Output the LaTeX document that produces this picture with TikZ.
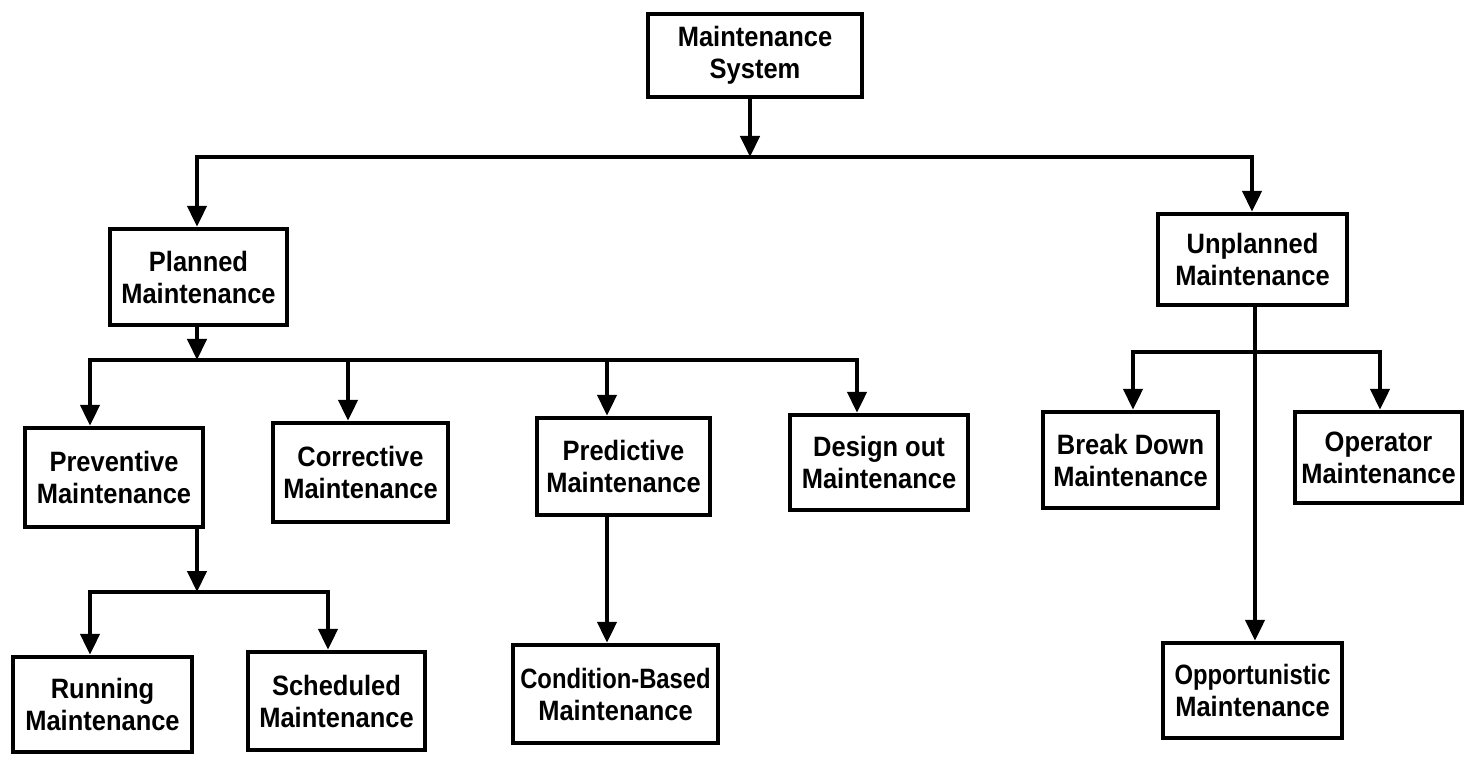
\documentclass[tikz,border=0pt]{standalone}
\usepackage{fontspec}
\newfontfamily\labfont{Liberation Sans}[FakeStretch=0.91]
\newfontfamily\labfontn{Liberation Sans}[FakeStretch=0.85]
\usetikzlibrary{arrows.meta}
\begin{document}
\begin{tikzpicture}[x=0.5pt,y=-0.5pt,
  box/.style={draw,line width=2.2pt,inner sep=0pt,align=center,
    font=\labfont\bfseries\fontsize{14}{16}\selectfont},
  conn/.style={line width=2.2pt},
  arr/.style={conn,-{Triangle[width=9.5pt,length=10.5pt]}}]
\fill[white] (0,0) rectangle (1465,758);
\useasboundingbox (0,0) rectangle (1465,758);
% nodes
\node[box,minimum width=107pt,minimum height=41.5pt] (ms) at (755,55.5) {Maintenance\\System};
\node[box,minimum width=88.5pt,minimum height=48pt] (planned) at (198.5,277) {Planned\\Maintenance};
\node[box,minimum width=94.5pt,minimum height=45.5pt] (unplanned) at (1252.5,259.5) {Unplanned\\Maintenance};
\node[box,minimum width=89pt,minimum height=49.5pt] (prev) at (114,477.5) {Preventive\\Maintenance};
\node[box,minimum width=87.5pt,minimum height=49.5pt] (corr) at (360.5,472.5) {Corrective\\Maintenance};
\node[box,minimum width=86.5pt,minimum height=48.5pt] (pred) at (623.5,466.5) {Predictive\\Maintenance};
\node[box,minimum width=89pt,minimum height=47.5pt] (design) at (879,462.5) {Design out\\Maintenance};
\node[box,minimum width=87.5pt,minimum height=48pt] (bd) at (1130.5,460) {Break Down\\Maintenance};
\node[box,minimum width=83.5pt,minimum height=45.5pt] (oper) at (1378.5,457.5) {Operator\\Maintenance};
\node[box,minimum width=89.5pt,minimum height=47.5pt] (running) at (102.5,704.5) {Running\\Maintenance};
\node[box,minimum width=88.5pt,minimum height=49pt] (sched) at (336.5,701) {Scheduled\\Maintenance};
\node[box,minimum width=102.5pt,minimum height=49pt] (cond) at (615.5,694) {{\labfontn\bfseries Condition-Based}\\Maintenance};
\node[box,minimum width=89.5pt,minimum height=47.5pt] (opp) at (1252.5,690.5) {{\labfontn\bfseries Opportunistic}\\Maintenance};
% junctions and column helpers
\coordinate (j0) at (750,157);
\coordinate (xpl) at (197,0);
\coordinate (xun) at (1252,0);
\coordinate (j1) at (197,360);
\coordinate (xa) at (90,0);
\coordinate (xb) at (348,0);
\coordinate (xc) at (607,0);
\coordinate (xd) at (857,0);
\coordinate (j2) at (197,592);
\coordinate (xr) at (90,0);
\coordinate (xs) at (328,0);
\coordinate (j3) at (1255,352);
\coordinate (xbd) at (1133,0);
\coordinate (xop) at (1380,0);
% connectors
\draw[arr] (ms.south -| j0) -- (j0);
\draw[arr] (j0) -| (planned.north -| xpl);
\draw[arr] (j0) -| (unplanned.north -| xun);
\draw[arr] (planned.south -| j1) -- (j1);
\draw[arr] (j1) -| (prev.north -| xa);
\draw[arr] (j1) -| (corr.north -| xb);
\draw[arr] (j1) -| (pred.north -| xc);
\draw[arr] (j1) -| (design.north -| xd);
\draw[arr] (prev.south -| j2) -- (j2);
\draw[arr] (j2) -| (running.north -| xr);
\draw[arr] (j2) -| (sched.north -| xs);
\draw[arr] (pred.south -| xc) -- (cond.north -| xc);
\draw[arr] (unplanned.south -| j3) -- (opp.north -| j3);
\draw[arr] (j3) -| (bd.north -| xbd);
\draw[arr] (j3) -| (oper.north -| xop);
\end{tikzpicture}
\end{document}
